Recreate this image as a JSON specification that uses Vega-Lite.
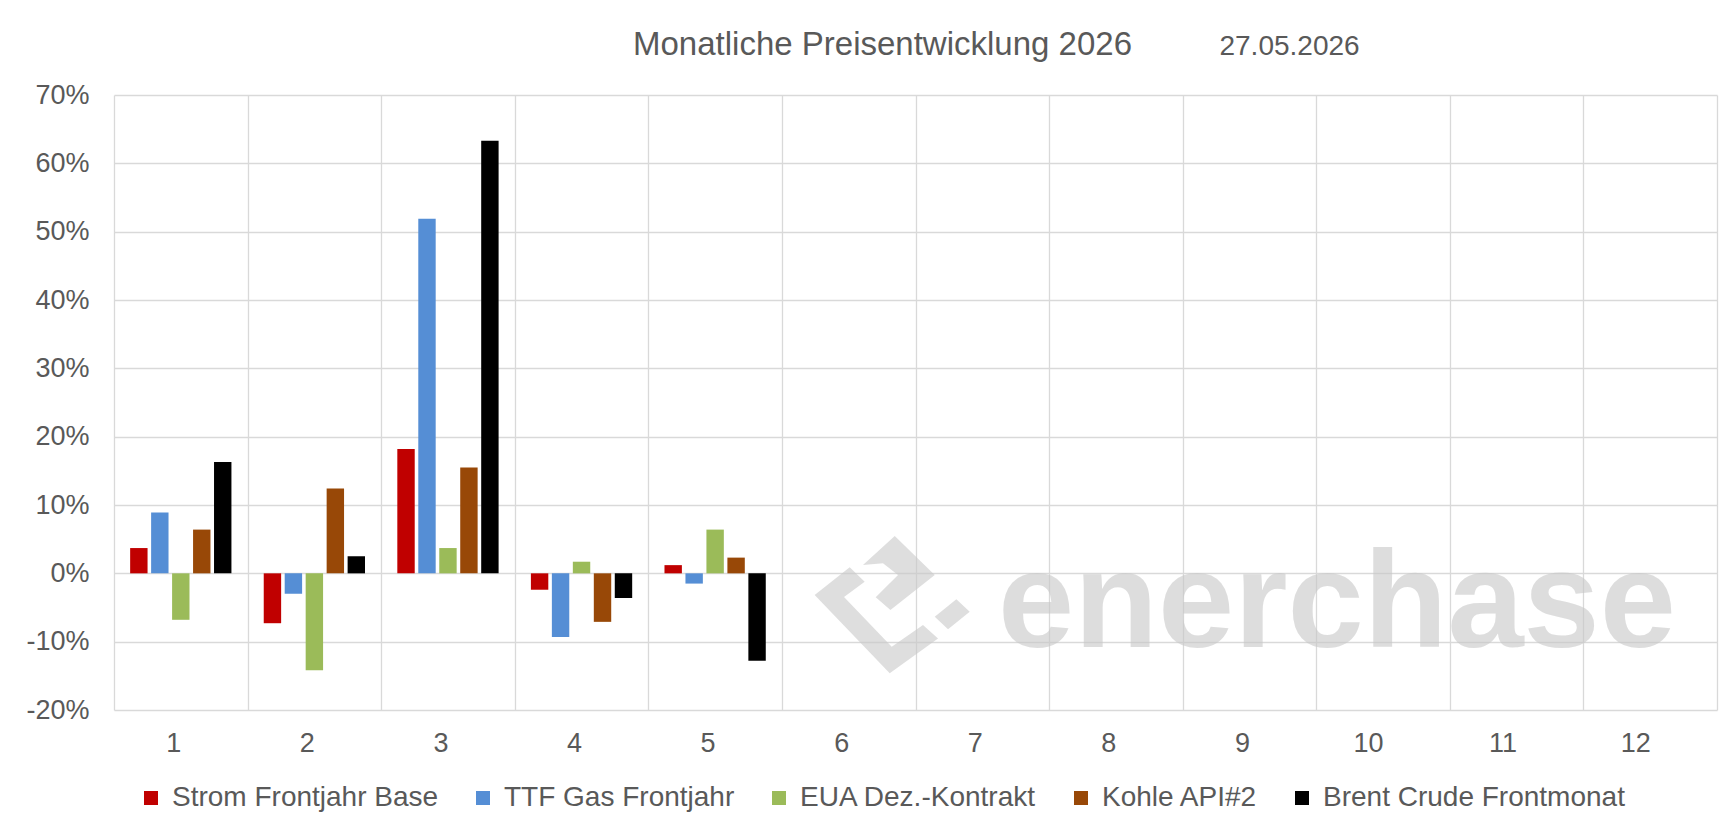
{
  "$schema": "https://vega.github.io/schema/vega-lite/v6.json",
  "width": 1603,
  "height": 615,
  "autosize": {"type": "none"},
  "padding": {"left": 114, "top": 95, "right": 16, "bottom": 121},
  "background": "white",
  "config": {"view": {"stroke": null}, "font": "Liberation Sans"},
  "title": {
    "text": "Monatliche Preisentwicklung 2026",
    "fontSize": 33,
    "fontWeight": "normal",
    "color": "#595959",
    "font": "Liberation Sans",
    "anchor": "middle",
    "dx": -33,
    "baseline": "alphabetic",
    "offset": -55
  },
  "datasets": {
    "bars": [
      {"m": "1", "s": "Strom Frontjahr Base", "v": 3.7},
      {"m": "1", "s": "TTF Gas Frontjahr", "v": 8.9},
      {"m": "1", "s": "EUA Dez.-Kontrakt", "v": -6.8},
      {"m": "1", "s": "Kohle API#2", "v": 6.4},
      {"m": "1", "s": "Brent Crude Frontmonat", "v": 16.3},
      {"m": "2", "s": "Strom Frontjahr Base", "v": -7.3},
      {"m": "2", "s": "TTF Gas Frontjahr", "v": -3.0},
      {"m": "2", "s": "EUA Dez.-Kontrakt", "v": -14.2},
      {"m": "2", "s": "Kohle API#2", "v": 12.4},
      {"m": "2", "s": "Brent Crude Frontmonat", "v": 2.5},
      {"m": "3", "s": "Strom Frontjahr Base", "v": 18.2},
      {"m": "3", "s": "TTF Gas Frontjahr", "v": 51.9},
      {"m": "3", "s": "EUA Dez.-Kontrakt", "v": 3.7},
      {"m": "3", "s": "Kohle API#2", "v": 15.5},
      {"m": "3", "s": "Brent Crude Frontmonat", "v": 63.3},
      {"m": "4", "s": "Strom Frontjahr Base", "v": -2.4},
      {"m": "4", "s": "TTF Gas Frontjahr", "v": -9.3},
      {"m": "4", "s": "EUA Dez.-Kontrakt", "v": 1.7},
      {"m": "4", "s": "Kohle API#2", "v": -7.1},
      {"m": "4", "s": "Brent Crude Frontmonat", "v": -3.6},
      {"m": "5", "s": "Strom Frontjahr Base", "v": 1.2},
      {"m": "5", "s": "TTF Gas Frontjahr", "v": -1.5},
      {"m": "5", "s": "EUA Dez.-Kontrakt", "v": 6.4},
      {"m": "5", "s": "Kohle API#2", "v": 2.3},
      {"m": "5", "s": "Brent Crude Frontmonat", "v": -12.8}
    ],
    "watermark": [{"m": "10", "v": -10.78, "label": "enerchase"}],
    "logo": [{"m": "6", "v": -4.5}],
    "date": [{"m": "9", "v": 75.85, "label": "27.05.2026"}]
  },
  "layer": [
    {
      "data": {"name": "watermark"},
      "mark": {"type": "text", "font": "Liberation Sans", "fontWeight": "bold", "fontSize": 137, "color": "#C8C8C8", "opacity": 0.6, "align": "center", "baseline": "alphabetic", "dx": -46},
      "encoding": {
        "x": {"field": "m", "type": "ordinal"},
        "y": {"field": "v", "type": "quantitative"},
        "text": {"field": "label"}
      }
    },
    {
      "data": {"name": "logo"},
      "mark": {
        "type": "point",
        "shape": "M 0.0125 -0.459 L -0.4255 -0.113 L 0.5125 0.866 L 1.1165 0.429 L 0.9285 0.263 L 0.5375 0.534 L -0.0585 -0.088 L 0.1995 -0.279 Z M 0.5755 -0.85 L 1.0755 -0.363 L 0.5215 0.075 L 0.3375 -0.084 L 0.6165 -0.363 L 0.4285 -0.509 L 0.1785 -0.488 Z M 1.0755 0.159 L 1.3455 -0.059 L 1.5125 0.096 L 1.2415 0.316 Z",
        "size": 25600,
        "filled": true,
        "color": "#C8C8C8",
        "opacity": 0.6,
        "strokeWidth": 0
      },
      "encoding": {
        "x": {"field": "m", "type": "ordinal"},
        "y": {"field": "v", "type": "quantitative"}
      }
    },
    {
      "data": {"name": "bars"},
      "mark": {"type": "bar"},
      "encoding": {
        "x": {
          "field": "m",
          "type": "ordinal",
          "scale": {"domain": ["1","2","3","4","5","6","7","8","9","10","11","12"], "paddingInner": 0, "paddingOuter": 0},
          "axis": {
            "title": null,
            "labelAngle": 0,
            "labelFontSize": 27,
            "labelColor": "#595959",
            "labelPadding": 33,
            "ticks": false,
            "domain": false,
            "grid": true,
            "gridColor": "#D9D9D9",
            "gridWidth": 1.3,
            "tickBand": "extent"
          }
        },
        "xOffset": {
          "field": "s",
          "type": "nominal",
          "scale": {"domain": ["Strom Frontjahr Base", "TTF Gas Frontjahr", "EUA Dez.-Kontrakt", "Kohle API#2", "Brent Crude Frontmonat"], "paddingInner": 0.17, "paddingOuter": 0.77}
        },
        "y": {
          "field": "v",
          "type": "quantitative",
          "scale": {"domain": [-20, 70], "nice": false, "zero": false},
          "axis": {
            "title": null,
            "values": [-20, -10, 0, 10, 20, 30, 40, 50, 60, 70],
            "labelExpr": "datum.value + '%'",
            "labelFontSize": 27,
            "labelColor": "#595959",
            "labelPadding": 25,
            "ticks": false,
            "domain": false,
            "grid": true,
            "gridColor": "#D9D9D9",
            "gridWidth": 1.3
          }
        },
        "color": {
          "field": "s",
          "type": "nominal",
          "scale": {
            "domain": ["Strom Frontjahr Base", "TTF Gas Frontjahr", "EUA Dez.-Kontrakt", "Kohle API#2", "Brent Crude Frontmonat"],
            "range": ["#C00000", "#558ED5", "#9BBB59", "#984807", "#000000"]
          },
          "legend": {
            "title": null,
            "orient": "none",
            "legendX": 23,
            "legendY": 689,
            "direction": "horizontal",
            "columns": 5,
            "symbolType": "square",
            "symbolSize": 196,
            "symbolStrokeWidth": 0,
            "labelFontSize": 28,
            "labelColor": "#595959",
            "labelOffset": 7,
            "labelLimit": 500,
            "columnPadding": 30,
            "padding": 0
          }
        }
      }
    },
    {
      "data": {"name": "date"},
      "mark": {"type": "text", "fontSize": 28, "color": "#595959", "align": "left", "baseline": "alphabetic", "dx": -30},
      "encoding": {
        "x": {"field": "m", "type": "ordinal"},
        "y": {"field": "v", "type": "quantitative"},
        "text": {"field": "label"}
      }
    }
  ]
}
